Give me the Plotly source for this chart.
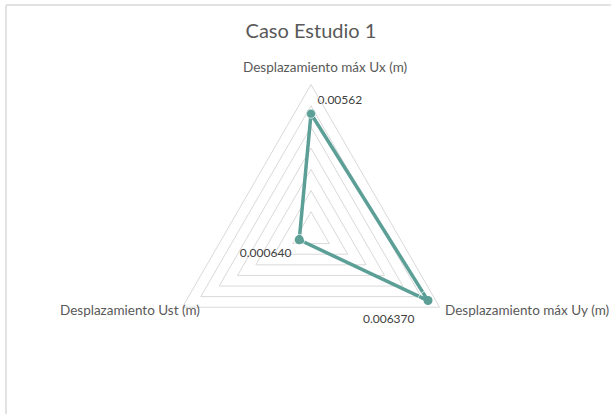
import plotly.graph_objects as go

# datos del caso de estudio
categorias = ["Desplazamiento máx Ux (m)", "Desplazamiento máx Uy (m)", "Desplazamiento Ust (m)"]
valores = [0.00562, 0.006370, 0.000640]
etiquetas = ["0.00562", "0.006370", "0.000640"]
posiciones = ["top right", "bottom left", "bottom left"]

color_linea = "#5B9F97"
gris = "#D9D9D9"

fig = go.Figure()

# cerrar el poligono repitiendo el primer punto
fig.add_trace(go.Scatterpolar(
    r=valores + [valores[0]],
    theta=categorias + [categorias[0]],
    mode="lines+markers",
    line=dict(color=color_linea, width=3.5),
    marker=dict(color=color_linea, size=9),
    hoverinfo="skip",
    showlegend=False,
))
# etiquetas de datos (marcador invisible, su tamaño solo separa el texto del punto)
fig.add_trace(go.Scatterpolar(
    r=valores,
    theta=categorias,
    mode="markers+text",
    marker=dict(color="rgba(0,0,0,0)", size=[9, 20, 11]),
    text=etiquetas,
    textposition=posiciones,
    textfont=dict(family="Lato", size=12, color="#404040"),
    showlegend=False,
))

fig.update_layout(
    width=611,
    height=414,
    margin=dict(l=0, r=0, t=0, b=0),
    paper_bgcolor="white",
    font=dict(family="Lato", size=13.5, color="#595959"),
    title=dict(text="Caso Estudio 1", x=0.509, xanchor="center", y=0.925, yanchor="middle",
               font=dict(family="Lato", size=20, color="#595959")),
    polar=dict(
        domain=dict(x=[0.266, 0.752], y=[0.0785, 0.7959]),
        bgcolor="white",
        gridshape="linear",
        radialaxis=dict(range=[0, 0.007], dtick=0.001, showticklabels=False, ticks="",
                        showline=False, gridcolor=gris, gridwidth=1),
        angularaxis=dict(rotation=90, direction="clockwise", showgrid=False,
                         showline=True, linecolor=gris, linewidth=1, ticks="",
                         showticklabels=False),
    ),
    # nombres de las categorias colocados como en Excel
    annotations=[
        dict(text=categorias[0], xref="paper", yref="paper", x=325/611, y=1-67/414,
             xanchor="center", yanchor="middle", showarrow=False),
        dict(text=categorias[1], xref="paper", yref="paper", x=443/611, y=1-310/414,
             xanchor="left", yanchor="middle", showarrow=False),
        dict(text=categorias[2], xref="paper", yref="paper", x=202/611, y=1-310/414,
             xanchor="right", yanchor="middle", showarrow=False),
    ],
    shapes=[
        dict(type="line", xref="paper", yref="paper", x0=6/611, x1=1, y0=1-5/414, y1=1-5/414,
             line=dict(color=gris, width=1.5)),
        dict(type="line", xref="paper", yref="paper", x0=6/611, x1=6/611, y0=0, y1=1-5/414,
             line=dict(color=gris, width=1.5)),
    ],
)

# quitar el margen por defecto del body para que la figura empiece en (0, 0)
fig.write_html("out.html", config={"displayModeBar": False},
               post_script="document.body.style.margin='0px';document.body.style.overflow='hidden';")
